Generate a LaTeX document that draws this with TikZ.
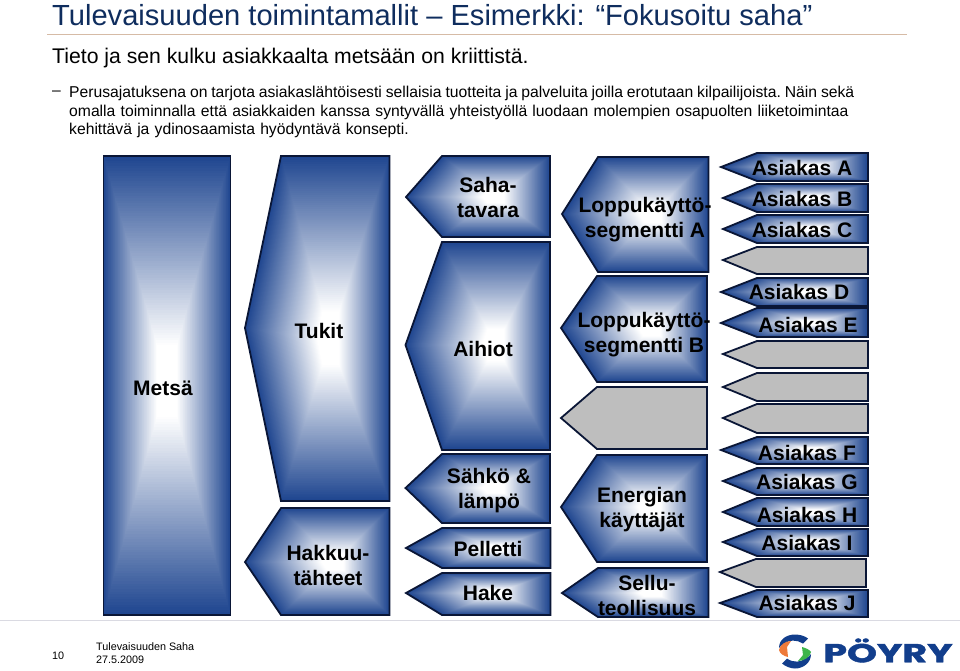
\documentclass[tikz,border=0pt]{standalone}
\usepackage{fontspec}
\setmainfont{Liberation Sans}
\newfontfamily\logofont[BoldFeatures={FakeBold=1.5}]{Poppins}
\definecolor{shapeblue}{HTML}{1F4690}
\definecolor{edgenavy}{HTML}{0A1636}
\definecolor{greyfill}{HTML}{BEBEBE}
\definecolor{titleblue}{HTML}{0F2D5E}
\definecolor{rulebrown}{HTML}{D6BBA6}
\definecolor{rulegrey}{HTML}{DADAE2}
\definecolor{logoblue}{HTML}{123E8C}
\definecolor{logoorange}{HTML}{EE7A3A}
\definecolor{logogreen}{HTML}{3DB54A}
\tikzset{
  outline/.style={draw=edgenavy,line width=1.8pt,line join=miter},
  lab/.style={font=\fontsize{21}{25}\selectfont\bfseries,text=black,align=center,inner sep=0pt},
  bodytext/.style={font=\fontsize{15.7}{18.6}\selectfont,anchor=north west,align=left,inner sep=0pt,text width=860pt},
  foot/.style={font=\fontsize{10.8}{12}\selectfont,anchor=west,inner sep=0pt,align=left},
}
% #1,#2 centre of the gradient; #3 polygon
\newcommand{\gradshape}[3]{%
  \foreach \k in {0,...,89}{%
    \pgfmathsetmacro\tt{1-\k/90}%
    \pgfmathsetmacro\mm{max(0,min(100,(\tt-0.16)/0.84*100))}%
    \fill[shapeblue!\mm!white,shift={(#1,#2)},scale=\tt,shift={(-#1,-#2)}] #3 -- cycle;
  }%
  \draw[outline] #3 -- cycle;
}
% tipx tipy leftx top bottom right
\newcommand{\pent}[6]{%
  \pgfmathsetmacro\cxx{(#3+#6)/2}%
  \edef\doit{\noexpand\gradshape{\cxx}{#2}{(#1,#2) -- (#3,#4) -- (#6,#4) -- (#6,#5) -- (#3,#5)}}\doit
}
\newcommand{\gpent}[6]{%
  \draw[outline,fill=greyfill] (#1,#2) -- (#3,#4) -- (#6,#4) -- (#6,#5) -- (#3,#5) -- cycle;
}
\begin{document}
\begin{tikzpicture}[x=1pt,y=-1pt]
\useasboundingbox (0,0) rectangle (960,670);
\fill[white] (0,0) rectangle (960,670);
% header
\node[anchor=west,inner sep=0pt,text=titleblue,font=\fontsize{29.1}{32}\selectfont] (title) at (52,15) {Tulevaisuuden toimintamallit – Esimerkki: “Fokusoitu saha”};
\coordinate (ruleL) at (47,34.5); \coordinate (ruleR) at (907,34.5);
\draw[rulebrown,line width=1pt] (ruleL) -- (ruleR);
\node[anchor=west,inner sep=0pt,font=\fontsize{21.2}{25}\selectfont] (sub) at (52,58) {Tieto ja sen kulku asiakkaalta metsään on kriittistä.};
\node[anchor=west,inner sep=0pt,font=\fontsize{15.7}{18.6}\selectfont] (dash) at (52,93.5) {–};
\node[bodytext] (body) at (69,86) {\frenchspacing{\spaceskip=3.9pt Perusajatuksena on tarjota asiakaslähtöisesti sellaisia tuotteita ja palveluita joilla erotutaan kilpailijoista. Näin sekä}\\ omalla toiminnalla että asiakkaiden kanssa syntyvällä yhteistyöllä luodaan molempien osapuolten liiketoimintaa\\ kehittävä ja ydinosaamista hyödyntävä konsepti.};
% column 1, 2
\gradshape{167}{380}{(103.5,156) -- (230.5,156) -- (230.5,615) -- (103.5,615)}
\gradshape{330}{340}{(245,328) -- (281,156) -- (389.5,156) -- (389.5,501) -- (281,501)}
\pent{245}{562}{281}{508}{615}{389.5}
% column 3
\pent{406}{197}{442}{156}{237}{550}
\pent{405.5}{345}{442}{242}{450}{550}
\pent{405.5}{488}{442}{454}{523}{550}
\pent{406}{548}{442}{528}{568}{550.5}
\pent{406}{593}{442}{573}{615}{550.5}
% column 4
\pent{562}{214}{598}{157}{272}{708.5}
\pent{561}{328}{597}{276}{382}{707}
\gpent{561}{418}{597}{387}{449}{707}
\pent{561}{507}{597}{455}{562}{707}
\pent{562}{593}{598}{568}{617}{708.5}
% column 5
\pent{721}{167}{757}{153}{181}{868}
\pent{723}{198}{757}{184}{212}{868}
\pent{723}{229}{757}{215}{243}{868}
\gpent{723}{260}{757}{247}{274}{868}
\pent{721}{292}{757}{278}{306}{868}
\pent{721}{323}{757}{308}{337}{868}
\gpent{723}{354}{757}{341}{368}{868}
\gpent{723}{387}{757}{373}{401}{868}
\gpent{723}{418}{757}{404}{433}{868}
\pent{721}{450}{757}{437}{464}{868}
\pent{723}{481}{757}{468}{495}{868}
\pent{723}{512}{757}{498}{526}{868}
\pent{723}{542}{757}{529}{556}{868}
\gpent{720}{572}{756}{559}{587}{866}
\pent{720}{603}{757}{590}{617}{868}
% labels
\node[lab] (metsa) at (163,388) {Metsä};
\node[lab] (tukit) at (319,331) {Tukit};
\node[lab] (hakkuu) at (328,565) {Hakkuu-\\tähteet};
\node[lab] (saha) at (488,197.5) {Saha-\\tavara};
\node[lab] (aihiot) at (483,349) {Aihiot};
\node[lab] (sahko) at (489,491) {Sähkö \&\\lämpö};
\node[lab] (pelletti) at (488,549) {Pelletti};
\node[lab] (hake) at (488,593) {Hake};
\node[lab] (segA) at (645,220) {Loppukäyttö-\\segmentti A};
\node[lab] (segB) at (644,335) {Loppukäyttö-\\segmentti B};
\node[lab] (energia) at (642,510) {Energian\\käyttäjät};
\node[lab] (sellu) at (647,595) {Sellu-\\teollisuus};
\node[lab] (asA) at (802,168) {Asiakas A};
\node[lab] (asB) at (802,199) {Asiakas B};
\node[lab] (asC) at (802,230) {Asiakas C};
\node[lab] (asD) at (799,292) {Asiakas D};
\node[lab] (asE) at (808,325) {Asiakas E};
\node[lab] (asF) at (807,453) {Asiakas F};
\node[lab] (asG) at (807,482) {Asiakas G};
\node[lab] (asH) at (807,515) {Asiakas H};
\node[lab] (asI) at (807,543) {Asiakas I};
\node[lab] (asJ) at (807,603) {Asiakas J};
% footer
\coordinate (footL) at (0,620.5); \coordinate (footR) at (960,620.5);
\draw[rulegrey,line width=1pt] (footL) -- (footR);
\node[foot] (page) at (52,656) {10};
\node[foot] (fname) at (96,647) {Tulevaisuuden Saha};
\node[foot] (fdate) at (96,659.5) {27.5.2009};
% logo
\fill[logoblue] (779,648) .. controls (779,639) and (787,634.5) .. (795,634.5) .. controls (800,634.5) and (805,636) .. (808,638.5) -- (803,643.5) .. controls (797,639.5) and (788,639.5) .. (785,644) .. controls (782,645) and (780,646) .. (779,648) -- cycle;
\fill[logoblue] (811,654) .. controls (811,663) and (803,668.5) .. (795,668.5) .. controls (790,668.5) and (785,666) .. (782,663.5) -- (787,658.5) .. controls (793,663) and (802,662.5) .. (805,658) .. controls (808,657) and (810,656) .. (811,654) -- cycle;
\fill[logoorange] (779,650) .. controls (780,645) and (785,641) .. (791,641) -- (787,647) -- (788,657) .. controls (784,656) and (780,654) .. (779,650) -- cycle;
\fill[logogreen] (802,647) .. controls (806,648) and (810,650) .. (811,652) .. controls (810,657) and (804,661) .. (798,661) -- (803,655) -- cycle;
\node[inner sep=0pt,text=logoblue,font=\logofont\fontsize{26}{26}\selectfont\bfseries,xscale=1.46,yscale=1] (poyry) at (888,650.5) {PÖYRY};
\end{tikzpicture}
\end{document}
